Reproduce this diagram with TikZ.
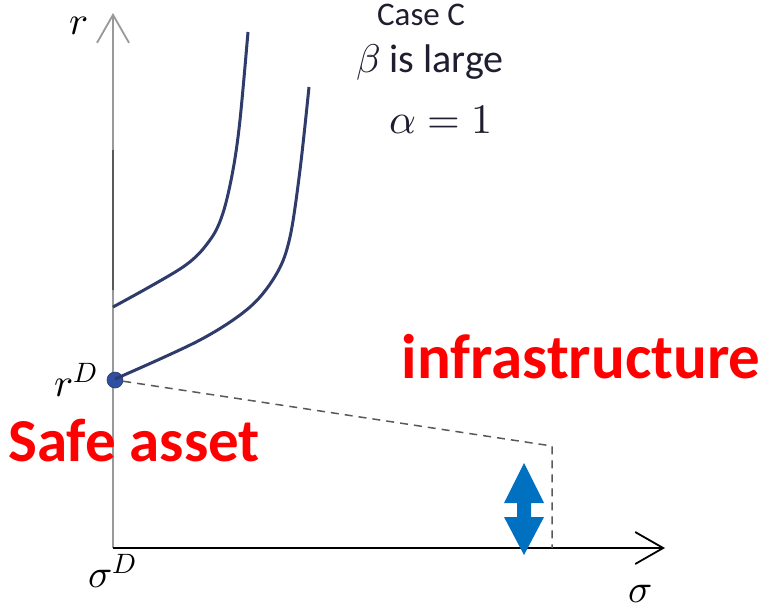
\documentclass[tikz,border=0pt]{standalone}
\usepackage{fontspec}
\setmainfont{Carlito}
\usepackage{unicode-math}
\usetikzlibrary{arrows.meta}
\definecolor{curvec}{HTML}{2E3B6B}
\definecolor{redt}{HTML}{FF0000}
\definecolor{bluea}{HTML}{0070C0}
\definecolor{dotc}{HTML}{2F4FA0}
\definecolor{textc}{HTML}{1E1E30}
\tikzset{
  curve/.style={curvec, line width=3pt},
  lbl/.style={inner sep=0pt, anchor=center},
  mathlbl/.style={lbl, font=\fontsize{40}{44}\selectfont},
  redlbl/.style={lbl, text=redt, font=\fontsize{63}{66}\selectfont\bfseries},
  openarrow/.style={-{Straight Barb[length=28pt,width=32pt,line width=1.8pt]}}
}
\begin{document}
\begin{tikzpicture}[x=1pt,y=-1pt]
\useasboundingbox (0,0) rectangle (770,613);
\coordinate (O) at (113,548);
\coordinate (ytop) at (113,13);
\coordinate (xend) at (665,548);
\coordinate (bk1) at (113,150);
\coordinate (bk2) at (113,290);
\draw[gray!80, line width=2pt, openarrow] (O) -- (ytop);
\draw[black!65, line width=1.2pt] (bk1) -- (bk2);
\draw[black, line width=2pt, openarrow] (O) -- (xend);
\node[mathlbl] (rlab) at (79,26) {$r$};
\node[mathlbl] (slab) at (640,594) {$\sigma$};
\node[mathlbl] (sDlab) at (112,571) {$\sigma^{D}$};
\node[mathlbl] (rDlab) at (76,380) {$r^{D}$};
\node[lbl, font=\fontsize{33}{36}\selectfont, text=textc] (case) at (421,15) {Case C};
\node[lbl, font=\fontsize{40}{44}\selectfont, text=textc] (beta) at (430,62) {$\beta$ is large};
\node[lbl, font=\fontsize{42}{46}\selectfont, text=textc] (alpha) at (441,120) {$\alpha=1$};
% curves
\draw[curve] plot[smooth, tension=0.55] coordinates {(113,307) (183,267) (210,240) (223,213) (233,170) (240,120) (248,32)};
\node[circle, fill=dotc, draw=curvec, line width=0.6pt, inner sep=0pt, minimum size=16pt] (dot) at (115,380) {};
\draw[curve] plot[smooth, tension=0.55] coordinates {(115,379) (200,340) (250,307) (277,273) (290,237) (300,170) (309,87)};
% dashed
\coordinate (dcorner) at (552,446);
\coordinate (dbot) at (552,548);
\draw[gray!70!black, line width=1.5pt, dash pattern=on 8pt off 6pt] (dot) -- (dcorner) -- (dbot);
% labels
\node[redlbl] (infra) at (581,357) {infrastructure};
\node[redlbl, font=\fontsize{61}{64}\selectfont\bfseries] (safe) at (134,441) {Safe asset};
% blue double arrow
\fill[bluea] (524,463) -- (544,503) -- (531,503) -- (531,517) -- (544,517) -- (524,555) -- (504,517) -- (517,517) -- (517,503) -- (504,503) -- cycle;
\end{tikzpicture}
\end{document}
